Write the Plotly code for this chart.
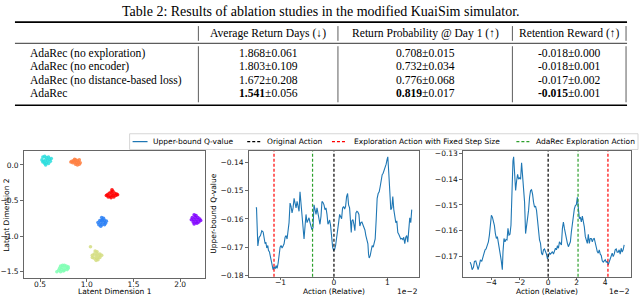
import plotly.graph_objects as go

W, H = 640, 299

# ------------------------------------------------------------------ table data
TITLE = "Table 2: Results of ablation studies in the modified KuaiSim simulator."
COLUMNS = ["Average Return Days (↓)", "Return Probability @ Day 1 (↑)", "Retention Reward (↑)"]
METHODS = ["AdaRec (no exploration)", "AdaRec (no encoder)",
           "AdaRec (no distance-based loss)", "AdaRec"]
RETURN_DAYS = ["1.868", "1.803", "1.672", "1.541"]
RETURN_DAYS_STD = ["0.061", "0.109", "0.208", "0.056"]
RETURN_PROB = ["0.708", "0.732", "0.776", "0.819"]
RETURN_PROB_STD = ["0.015", "0.034", "0.068", "0.017"]
RETENTION = ["-0.018", "-0.018", "-0.017", "-0.015"]
RETENTION_STD = ["0.000", "0.001", "0.002", "0.001"]
BEST_ROW = 3

# ------------------------------------------------------------------ latent scatter data
CLUSTER_COLORS = ["#2adddd", "#ff8042", "#ff0000", "#2a80f6", "#8000ff", "#d4dd80", "#80ffb4"]
CLUSTER_X = [
    [0.53, 0.55, 0.57, 0.59, 0.52, 0.54, 0.56, 0.58, 0.60, 0.62, 0.55, 0.57, 0.59, 0.56, 0.53, 0.61],
    [0.84, 0.86, 0.88, 0.90, 0.92, 0.85, 0.87, 0.89, 0.91, 0.93, 0.88, 0.90, 0.92, 0.83, 0.87],
    [1.22, 1.24, 1.26, 1.28, 1.27, 1.30, 1.32, 1.25, 1.28, 1.31, 1.23, 1.26, 1.29, 1.21, 1.33, 1.27],
    [1.16, 1.18, 1.14, 1.16, 1.19, 1.12, 1.15, 1.18, 1.20, 1.13, 1.16, 1.19, 1.15, 1.17, 1.21],
    [2.15, 2.17, 2.13, 2.16, 2.19, 2.12, 2.15, 2.18, 2.21, 2.14, 2.17, 2.20, 2.22, 2.15, 2.18],
    [1.09, 1.11, 1.08, 1.11, 1.14, 1.06, 1.10, 1.13, 1.16, 1.08, 1.11, 1.14, 1.10, 1.12, 1.04, 1.06],
    [0.72, 0.74, 0.76, 0.78, 0.80, 0.71, 0.74, 0.77, 0.80, 0.70, 0.73, 0.76, 0.79, 0.68, 0.72, 0.75],
]
CLUSTER_Y = [
    [0.11, 0.12, 0.10, 0.11, 0.07, 0.05, 0.07, 0.06, 0.08, 0.09, 0.02, 0.03, 0.02, 0.00, 0.04, 0.05],
    [0.05, 0.06, 0.07, 0.06, 0.07, 0.03, 0.04, 0.03, 0.04, 0.03, 0.01, 0.00, 0.01, 0.04, 0.08],
    [-0.42, -0.40, -0.38, -0.37, -0.35, -0.40, -0.41, -0.44, -0.43, -0.43, -0.45, -0.46, -0.45, -0.43, -0.42, -0.41],
    [-0.74, -0.75, -0.78, -0.78, -0.78, -0.81, -0.81, -0.81, -0.82, -0.84, -0.84, -0.84, -0.86, -0.77, -0.79],
    [-0.70, -0.71, -0.74, -0.74, -0.74, -0.77, -0.77, -0.77, -0.76, -0.80, -0.80, -0.80, -0.78, -0.83, -0.82],
    [-1.21, -1.22, -1.25, -1.25, -1.25, -1.27, -1.28, -1.28, -1.27, -1.31, -1.31, -1.30, -1.34, -1.33, -1.15, -1.30],
    [-1.42, -1.41, -1.41, -1.42, -1.43, -1.45, -1.44, -1.45, -1.45, -1.48, -1.47, -1.48, -1.47, -1.50, -1.50, -1.49],
]

# ------------------------------------------------------------------ Q-value curve A (x in units of 1e-2)
ACTION_A = [
    -1.460, -1.447, -1.422, -1.398, -1.373, -1.348, -1.323, -1.304, -1.286, -1.273,
    -1.255, -1.236, -1.224, -1.205, -1.186, -1.168, -1.149, -1.137, -1.118, -1.099,
    -1.081, -1.062, -1.043, -1.025, -1.006, -0.988, -0.969, -0.950, -0.932, -0.913,
    -0.894, -0.876, -0.857, -0.839, -0.820, -0.801, -0.783, -0.764, -0.745, -0.727,
    -0.708, -0.689, -0.671, -0.652, -0.634, -0.615, -0.596, -0.578, -0.559, -0.540,
    -0.522, -0.503, -0.484, -0.466, -0.447, -0.429, -0.410, -0.391, -0.373, -0.354,
    -0.335, -0.317, -0.298, -0.280, -0.261, -0.242, -0.224, -0.205, -0.186, -0.168,
    -0.149, -0.130, -0.112,
    -0.099, -0.081, -0.062, -0.043, -0.025, -0.006, 0.012, 0.031, 0.050, 0.068,
    0.087, 0.106, 0.124, 0.143, 0.161, 0.180, 0.199, 0.217, 0.236, 0.255,
    0.273, 0.292, 0.311, 0.323, 0.335, 0.354, 0.373, 0.391, 0.410, 0.429,
    0.447, 0.466, 0.484, 0.503, 0.522, 0.540, 0.559, 0.578, 0.596, 0.615,
    0.634, 0.646, 0.658, 0.677, 0.696, 0.714, 0.733, 0.752, 0.770, 0.789,
    0.807, 0.826, 0.845, 0.863, 0.882, 0.901, 0.919, 0.938, 0.957, 0.975,
    0.994, 1.006, 1.025, 1.043, 1.062, 1.081, 1.099, 1.118, 1.137, 1.155,
    1.174, 1.193, 1.211, 1.230, 1.248, 1.267, 1.286, 1.304, 1.323, 1.342,
    1.360, 1.379, 1.398, 1.416, 1.435, 1.453,
]
QVALUE_A = [
    -0.1561, -0.1561, -0.1696, -0.1665, -0.1659, -0.1642, -0.1646, -0.1671, -0.1688, -0.1682,
    -0.1703, -0.1694, -0.1711, -0.1717, -0.1734, -0.1746, -0.1763, -0.1780, -0.1769, -0.1777,
    -0.1765, -0.1775, -0.1757, -0.1729, -0.1700, -0.1694, -0.1703, -0.1696, -0.1688, -0.1665,
    -0.1659, -0.1671, -0.1648, -0.1613, -0.1544, -0.1556, -0.1579, -0.1561, -0.1527, -0.1544,
    -0.1561, -0.1538, -0.1561, -0.1573, -0.1504, -0.1550, -0.1584, -0.1619, -0.1671, -0.1625,
    -0.1584, -0.1613, -0.1602, -0.1596, -0.1613, -0.1631, -0.1639, -0.1631, -0.1550, -0.1567,
    -0.1584, -0.1561, -0.1584, -0.1613, -0.1619, -0.1590, -0.1538, -0.1542, -0.1550, -0.1567,
    -0.1561, -0.1584, -0.1619,
    -0.1613, -0.1604, -0.1625, -0.1671, -0.1700, -0.1711, -0.1708, -0.1694, -0.1671, -0.1648,
    -0.1613, -0.1584, -0.1590, -0.1599, -0.1561, -0.1556, -0.1565, -0.1556, -0.1521, -0.1510,
    -0.1550, -0.1561, -0.1613, -0.1648, -0.1607, -0.1602, -0.1619, -0.1642, -0.1579, -0.1573,
    -0.1576, -0.1584, -0.1625, -0.1613, -0.1611, -0.1619, -0.1625, -0.1639, -0.1659, -0.1671,
    -0.1688, -0.1725, -0.1738, -0.1730, -0.1705, -0.1694, -0.1700, -0.1688, -0.1671, -0.1602,
    -0.1527, -0.1510, -0.1504, -0.1486, -0.1452, -0.1443, -0.1438, -0.1429, -0.1417, -0.1406,
    -0.1388, -0.1380, -0.1440, -0.1533, -0.1567, -0.1561, -0.1521, -0.1567, -0.1602, -0.1613,
    -0.1607, -0.1648, -0.1654, -0.1665, -0.1671, -0.1669, -0.1673, -0.1665, -0.1688, -0.1665,
    -0.1659, -0.1682, -0.1619, -0.1596, -0.1613, -0.1567,
]
ORIGINAL_A, FIXED_STEP_A, ADAREC_A = 0.0, -1.12, -0.40

# ------------------------------------------------------------------ Q-value curve B (x in units of 1e-2)
ACTION_B = [
    -5.478, -5.408, -5.338, -5.245, -5.175, -5.082, -5.012, -4.918, -4.825, -4.755,
    -4.662, -4.592, -4.499, -4.429, -4.359, -4.266, -4.196, -4.126, -4.056, -3.986,
    -3.916, -3.846, -3.776, -3.706, -3.636, -3.566, -3.497, -3.427, -3.357, -3.287,
    -3.217, -3.170, -3.100, -3.030, -2.960, -2.890, -2.821, -2.751, -2.681, -2.611,
    -2.541, -2.471, -2.424, -2.354, -2.284, -2.214, -2.145, -2.075, -2.005, -1.935,
    -1.865, -1.795, -1.725, -1.655, -1.585, -1.515, -1.445, -1.375, -1.305, -1.235,
    -1.166, -1.096, -1.026, -0.956, -0.886, -0.816, -0.746, -0.676, -0.606, -0.536,
    -0.466, -0.396, -0.326, -0.256, -0.186, -0.117, -0.047, 0.023, 0.093, 0.163,
    0.233, 0.303, 0.373, 0.443, 0.513, 0.583, 0.653, 0.723, 0.793, 0.862,
    0.932, 1.002, 1.072, 1.142, 1.212, 1.282, 1.352, 1.422, 1.492, 1.562,
    1.632, 1.702, 1.772, 1.841, 1.911, 1.981, 2.051, 2.121, 2.191, 2.261,
    2.331, 2.401, 2.471, 2.541, 2.611, 2.681, 2.751, 2.821, 2.890, 2.960,
    3.030, 3.100, 3.170, 3.240, 3.310, 3.380, 3.450, 3.520, 3.590, 3.660,
    3.730, 3.800, 3.869, 3.939, 4.009, 4.079, 4.149, 4.219, 4.289, 4.359,
    4.429, 4.499, 4.569, 4.639, 4.709, 4.779, 4.848, 4.918, 4.988, 5.058,
    5.128, 5.198, 5.268, 5.338,
]
QVALUE_B = [
    -0.1722, -0.1732, -0.1751, -0.1742, -0.1719, -0.1717, -0.1732, -0.1751, -0.1732, -0.1713,
    -0.1719, -0.1700, -0.1687, -0.1674, -0.1671, -0.1655, -0.1643, -0.1617, -0.1572, -0.1540,
    -0.1547, -0.1559, -0.1579, -0.1611, -0.1630, -0.1623, -0.1643, -0.1668, -0.1694, -0.1719,
    -0.1751, -0.1681, -0.1630, -0.1643, -0.1634, -0.1636, -0.1591, -0.1617, -0.1614, -0.1579,
    -0.1438, -0.1329, -0.1313, -0.1368, -0.1444, -0.1406, -0.1381, -0.1400, -0.1393, -0.1400,
    -0.1336, -0.1387, -0.1438, -0.1489, -0.1611, -0.1585, -0.1566, -0.1521, -0.1470, -0.1444,
    -0.1441, -0.1457, -0.1489, -0.1508, -0.1504, -0.1521, -0.1559, -0.1617, -0.1636, -0.1649,
    -0.1687, -0.1694, -0.1674, -0.1671, -0.1681, -0.1691, -0.1709, -0.1694, -0.1687, -0.1691,
    -0.1683, -0.1681, -0.1691, -0.1678, -0.1668, -0.1674, -0.1658, -0.1668, -0.1643, -0.1649,
    -0.1655, -0.1591, -0.1566, -0.1591, -0.1614, -0.1636, -0.1649, -0.1662, -0.1655, -0.1643,
    -0.1604, -0.1566, -0.1534, -0.1515, -0.1502, -0.1499, -0.1470, -0.1508, -0.1553, -0.1547,
    -0.1566, -0.1543, -0.1563, -0.1585, -0.1623, -0.1643, -0.1649, -0.1614, -0.1649, -0.1630,
    -0.1630, -0.1643, -0.1632, -0.1630, -0.1649, -0.1668, -0.1681, -0.1687, -0.1674, -0.1691,
    -0.1696, -0.1717, -0.1722, -0.1717, -0.1713, -0.1722, -0.1719, -0.1732, -0.1722, -0.1713,
    -0.1700, -0.1687, -0.1700, -0.1691, -0.1674, -0.1671, -0.1683, -0.1683, -0.1674, -0.1691,
    -0.1668, -0.1683, -0.1674, -0.1655,
]
ORIGINAL_B, FIXED_STEP_B, ADAREC_B = 0.0, 4.2, 2.1

LEGEND_LABELS = ["Upper-bound Q-value", "Original Action",
                 "Exploration Action with Fixed Step Size", "AdaRec Exploration Action"]
LINE_COLOR = "#1f77b4"
VLINE_COLORS = {"orig": "#000000", "fixed": "#ff0000", "adarec": "#2ca02c"}


def px(x):
    return x / W


def py(y):
    return 1 - y / H


SERIF = "Liberation Serif, Times New Roman, serif"
SANS = "DejaVu Sans, Arial, sans-serif"
FS = 7.5
TFS = 11.6

fig = go.Figure()

# ---- scatter clusters
for cx, cy, col in zip(CLUSTER_X, CLUSTER_Y, CLUSTER_COLORS):
    fig.add_trace(go.Scatter(x=cx, y=cy, mode="markers", xaxis="x", yaxis="y",
                             marker=dict(size=3.6, color=col, opacity=0.85, line=dict(width=0)),
                             showlegend=False, hoverinfo="skip"))

# ---- Q-value curves
fig.add_trace(go.Scatter(x=ACTION_A, y=QVALUE_A, mode="lines", xaxis="x2", yaxis="y2",
                         line=dict(color=LINE_COLOR, width=1.1), showlegend=False))
fig.add_trace(go.Scatter(x=ACTION_B, y=QVALUE_B, mode="lines", xaxis="x3", yaxis="y3",
                         line=dict(color=LINE_COLOR, width=1.1), showlegend=False))

DASH = "3px,2px"
for ax, (o, f, a) in (("2", (ORIGINAL_A, FIXED_STEP_A, ADAREC_A)),
                      ("3", (ORIGINAL_B, FIXED_STEP_B, ADAREC_B))):
    for v, c in ((o, VLINE_COLORS["orig"]), (f, VLINE_COLORS["fixed"]), (a, VLINE_COLORS["adarec"])):
        fig.add_shape(type="line", xref="x" + ax, yref="y" + ax + " domain",
                      x0=v, x1=v, y0=0, y1=1, line=dict(color=c, width=1.2, dash=DASH))

axis_common = dict(showline=True, mirror=True, linecolor="#666666", linewidth=1,
                   ticks="outside", ticklen=2.5, tickwidth=0.8, tickcolor="#444444",
                   showgrid=False, zeroline=False,
                   tickfont=dict(size=FS, color="#111111", family=SANS), fixedrange=True)
xaxis_extra = dict(ticklabelstandoff=-4)


def minus(vals, fmt):
    return [(fmt.format(v)).replace("-", "−") for v in vals]


y_top = py(151.7)
fig.update_layout(
    xaxis=dict(domain=[px(21.7), px(204)], range=[0.324, 2.27], anchor="y",
               tickvals=[0.5, 1.0, 1.5, 2.0], ticktext=minus([0.5, 1.0, 1.5, 2.0], "{:.1f}"),
               **axis_common, **xaxis_extra),
    yaxis=dict(domain=[py(280.7), y_top], range=[-1.588, 0.193], anchor="x",
               tickvals=[0.0, -0.5, -1.0, -1.5], ticktext=minus([0.0, -0.5, -1.0, -1.5], "{:.1f}"),
               **axis_common),
    xaxis2=dict(domain=[px(247.3), px(418)], range=[-1.596, 1.583], anchor="y2",
                tickvals=[-1, 0, 1], ticktext=minus([-1, 0, 1], "{:d}"),
                **axis_common, **xaxis_extra),
    yaxis2=dict(domain=[py(279.5), y_top], range=[-0.1805, -0.1360], anchor="x2",
                tickvals=[-0.18, -0.17, -0.16, -0.15, -0.14],
                ticktext=minus([-0.18, -0.17, -0.16, -0.15, -0.14], "{:.2f}"), **axis_common),
    xaxis3=dict(domain=[px(462.3), px(630.7)], range=[-5.99, 5.80], anchor="y3",
                tickvals=[-4, -2, 0, 2, 4], ticktext=minus([-4, -2, 0, 2, 4], "{:d}"),
                **axis_common, **xaxis_extra),
    yaxis3=dict(domain=[py(279.5), y_top], range=[-0.1779, -0.1291], anchor="x3",
                tickvals=[-0.17, -0.16, -0.15, -0.14, -0.13],
                ticktext=minus([-0.17, -0.16, -0.15, -0.14, -0.13], "{:.2f}"), **axis_common),
)

ann = []


def text(x, y, s, size, family, xanchor="center", angle=0, color="#000000"):
    ann.append(dict(x=px(x), y=py(y), xref="paper", yref="paper", text=s, showarrow=False,
                    xanchor=xanchor, yanchor="middle", textangle=angle,
                    font=dict(size=size, family=family, color=color), borderpad=0))


# ---- axis titles
text(113, 294.5, "Latent Dimension 1", FS, SANS)
text(4.5, 216, "Latent Dimension 2", FS, SANS, angle=-90)
text(212.5, 215.5, "Upper-bound Q-value", FS, SANS, angle=-90)
text(332.6, 294.5, "Action (Relative)", FS, SANS)
text(546.5, 294.5, "Action (Relative)", FS, SANS)
text(418, 294.5, "1e−2", FS, SANS, xanchor="right")
text(630.7, 294.5, "1e−2", FS, SANS, xanchor="right")

# ---- table
shapes = []


def hline(y, x0, x1, w):
    shapes.append(dict(type="line", xref="paper", yref="paper", x0=px(x0), x1=px(x1),
                       y0=py(y), y1=py(y), line=dict(color="#000000", width=w)))


def vline(x, y0, y1):
    shapes.append(dict(type="line", xref="paper", yref="paper", x0=px(x), x1=px(x),
                       y0=py(y0), y1=py(y1), line=dict(color="#333333", width=0.8)))


text(320, 10, TITLE, 14, SERIF)
hline(20.5, 13, 627, 1.6)
hline(42, 13, 627, 0.8)
hline(105, 13, 627, 1.6)
DIVIDERS = [197, 337, 512, 626]
for dx in DIVIDERS:
    vline(dx, 24.5, 39.5)
    vline(dx, 45, 102)
col_centers = [(DIVIDERS[i] + DIVIDERS[i + 1]) / 2 for i in range(3)]
for cx, name in zip(col_centers, COLUMNS):
    text(cx, 32, name, TFS, SERIF)
row_y = [52.5, 66, 79.5, 93]
for i, m in enumerate(METHODS):
    text(27, row_y[i], m, TFS, SERIF, xanchor="left")
    cols = [(RETURN_DAYS[i], RETURN_DAYS_STD[i]), (RETURN_PROB[i], RETURN_PROB_STD[i]),
            (RETENTION[i], RETENTION_STD[i])]
    for cx, (v, s) in zip(col_centers, cols):
        vv = f"<b>{v}</b>" if i == BEST_ROW else v
        text(cx, row_y[i], f"{vv}±{s}", TFS, SERIF)

# ---- legend (drawn in figure coordinates, like the original)
shapes.append(dict(type="rect", xref="paper", yref="paper", x0=px(128), x1=px(638),
                   y0=py(150), y1=py(134), line=dict(color="#cccccc", width=0.8),
                   fillcolor="rgba(255,255,255,0.8)", layer="above"))
legend_items = [
    (131, 146, 150, LINE_COLOR, "solid"),
    (246, 260, 265, VLINE_COLORS["orig"], DASH),
    (331, 346, 352, VLINE_COLORS["fixed"], DASH),
    (516, 531, 535, VLINE_COLORS["adarec"], DASH),
]
for (h0, h1, tx, col, dash), lab in zip(legend_items, LEGEND_LABELS):
    shapes.append(dict(type="line", xref="paper", yref="paper", x0=px(h0), x1=px(h1),
                       y0=py(142), y1=py(142), line=dict(color=col, width=1.2, dash=dash),
                       layer="above"))
    text(tx, 142, lab, FS, SANS, xanchor="left")

fig.update_layout(
    width=W, height=H, autosize=False,
    margin=dict(l=0, r=0, t=0, b=0),
    paper_bgcolor="white", plot_bgcolor="white",
    font=dict(family=SANS, size=FS, color="#000000"),
    annotations=ann,
    shapes=list(fig.layout.shapes) + shapes,
    showlegend=False,
)

fig.write_html("out.html", config={"displayModeBar": False, "staticPlot": True},
               post_script="document.body.style.margin='0';document.body.style.overflow='hidden';")
